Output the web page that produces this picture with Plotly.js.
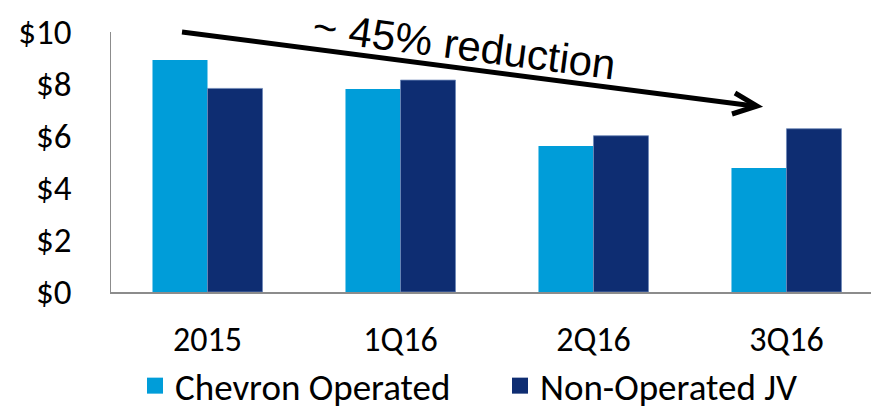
<!DOCTYPE html>
<html>
<head>
<meta charset="utf-8">
<script src="https://cdn.plot.ly/plotly-3.0.1.min.js"></script>
<style>html,body{margin:0;padding:0;background:#fff;}#chart{width:871px;height:409px;}</style>
</head>
<body>
<div id="chart"></div>
<script>
const categories = ["2015", "1Q16", "2Q16", "3Q16"];
const chevronOperated = [8.92, 7.81, 5.62, 4.77];
const nonOperatedJV = [7.83, 8.15, 6.01, 6.28];
const seriesNames = ["Chevron Operated", "Non-Operated JV"];
const seriesColors = ["#009dd9", "#0e2d72"];
const annotationText = "~ 45% reduction";

const FONT = "Carlito, Calibri, Lato, sans-serif";

const traces = [
  {type: "bar", name: seriesNames[0], x: categories, y: chevronOperated,
   marker: {color: seriesColors[0], line: {width: 0}}, showlegend: false, hoverinfo: "x+y"},
  {type: "bar", name: seriesNames[1], x: categories, y: nonOperatedJV,
   marker: {color: seriesColors[1], line: {width: 0.8, color: "#6d88b8"}}, showlegend: false, hoverinfo: "x+y"},
  {type: "scatter", mode: "markers", name: seriesNames[0], x: [null], y: [null],
   marker: {symbol: "square", size: 20, color: seriesColors[0]}, showlegend: true},
  {type: "scatter", mode: "markers", name: seriesNames[1], x: [null], y: [null],
   marker: {symbol: "square", size: 20, color: seriesColors[1]}, showlegend: true}
];

// pixel helpers for decoration (plot area: x 111..871, y 32..292)
function px(x){ return (x - 111) / 760; }
function py(y){ return (292 - y) / 260; }

const layout = {
  width: 871, height: 409,
  margin: {l: 111, r: 0, t: 32, b: 117, pad: 0},
  paper_bgcolor: "#ffffff", plot_bgcolor: "#ffffff",
  barmode: "group", bargap: 0.43, bargroupgap: 0,
  font: {family: FONT, color: "#000000", size: 32},
  xaxis: {
    type: "category", range: [-0.5, 3.438],
    showline: true, linecolor: "#8c8c8c", linewidth: 1.5,
    showgrid: false, zeroline: false, ticks: "",
    tickfont: {family: FONT, size: 34, color: "#000"},
    ticklabelstandoff: 17, fixedrange: true
  },
  yaxis: {
    range: [0, 10], dtick: 2, tick0: 0, tickprefix: "$",
    showline: true, linecolor: "#8c8c8c", linewidth: 1.5,
    showgrid: false, zeroline: false, ticks: "",
    tickfont: {family: FONT, size: 35, color: "#000"},
    ticklabelstandoff: 31, fixedrange: true
  },
  legend: {
    orientation: "h", xref: "container", yref: "container",
    x: 0.155, xanchor: "left", y: 0.056, yanchor: "middle",
    font: {family: FONT, size: 37, color: "#000"},
    entrywidth: 320, entrywidthmode: "pixels",
    bgcolor: "rgba(0,0,0,0)", borderwidth: 0, itemclick: false
  },
  shapes: [
    {type: "line", xref: "paper", yref: "paper",
     x0: px(182), y0: py(32), x1: px(754), y1: py(106),
     line: {color: "#000", width: 5}},
    {type: "path", xref: "paper", yref: "paper",
     path: "M" + px(735) + "," + py(93) + " L" + px(757) + "," + py(106) + " L" + px(732) + "," + py(114),
     line: {color: "#000", width: 5}}
  ],
  annotations: [
    {xref: "paper", yref: "paper", x: px(464), y: py(45), xanchor: "center", yanchor: "middle",
     text: annotationText, showarrow: false, textangle: 7.4,
     font: {family: "Liberation Sans, Arial, sans-serif", size: 42, color: "#000"}}
  ]
};

Plotly.newPlot("chart", traces, layout, {displayModeBar: false, staticPlot: true});
</script>
</body>
</html>
